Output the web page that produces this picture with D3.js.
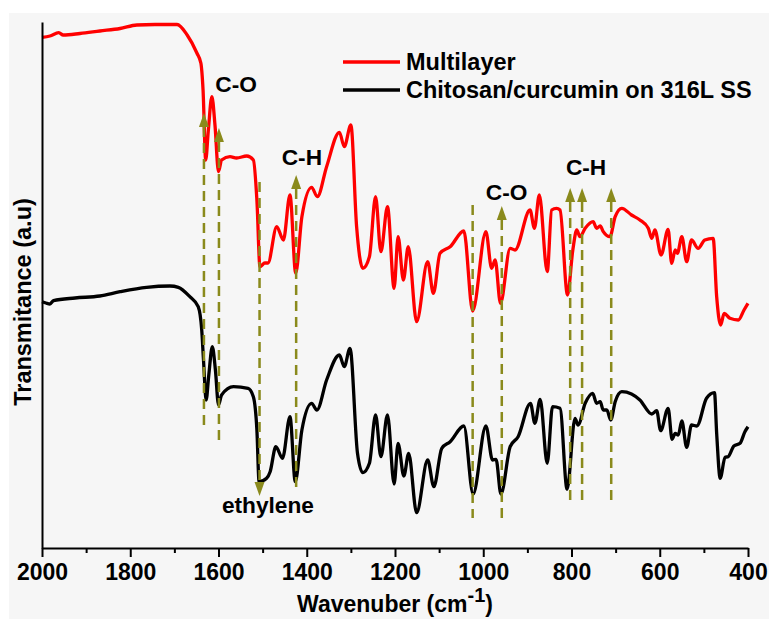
<!DOCTYPE html>
<html>
<head>
<meta charset="utf-8">
<script src="https://cdn.jsdelivr.net/npm/d3@7"></script>
<style>
  html, body { margin: 0; padding: 0; background: #ffffff; }
  svg { display: block; }
  text { font-family: "Liberation Sans", Arial, sans-serif; font-weight: bold; fill: #000; }
</style>
</head>
<body>
<script>
// ---------------- DATA ----------------
// Multilayer spectrum: [wavenumber (cm-1), transmittance (a.u.)]
const multilayerWavenumber = [2000,1982,1962,1952,1914,1869,1823,1785,1744,1694,1671,1649,1640,1635,1629,1623,1615,1608,1600,1593,1574,1559,1536,1521,1513,1506,1495,1488,1468,1453,1438,1425,1411,1389,1376,1355,1326,1315,1300,1287,1273,1258,1244,1232,1217,1202,1193,1181,1170,1151,1126,1113,1098,1075,1044,1024,994,981,973,961,939,928,894,884,873,855,845,834,826,809,797,788,781,769,751,743,735,728,713,701,686,664,645,626,618,611,597,581,573,565,560,550,539,528,513,498,479,471,462,454,441,422,409,400];
const multilayerValue = [510.7,512,515.3,513,514.5,517,519.5,523,523.5,523.5,513,495,485,458,388,418,451.3,423,376.3,388,391.3,390,392,388,348,281.3,285,285,321.3,308,353,274.7,331.3,360.7,351.3,381.3,415.7,401.3,423,321.3,279.7,291.3,351.3,296.3,341.3,259.7,311.3,268,301.3,226.3,286.3,254.7,294.7,301.3,317,237,316.3,279.7,288,244.7,299.7,298,338,319.7,353,276.3,338,339.7,338,253,298,318,311.3,319.7,326.3,319.7,322,316.3,311.3,331.3,339.7,333,328,319.7,309.7,318,293,318.7,284.7,298,294.7,311.3,286.3,308,299.7,308,309.7,251.3,223,234.7,229.7,228,238,244.7];

// Chitosan/curcumin on 316L SS spectrum
const chitosanWavenumber = [2000,1991,1982,1974,1925,1869,1823,1763,1710,1691,1665,1646,1638,1634,1628,1622,1614,1607,1600,1593,1566,1533,1521,1513,1508,1491,1483,1470,1455,1438,1426,1411,1389,1377,1355,1326,1315,1302,1285,1273,1258,1244,1232,1217,1202,1193,1180,1169,1151,1126,1112,1094,1075,1044,1023,994,979,971,960,939,921,893,883,871,855,843,826,810,792,785,769,752,743,735,728,720,711,701,686,664,645,618,607,598,581,572,565,558,550,539,528,516,494,476,471,463,452,445,432,418,407,400];
const chitosanValue = [246.3,245,244,247.3,250,252,256.3,260.7,262,260.7,251.3,241.3,218,188,148,173,201.3,178,143,153,161.3,159.7,151.3,118,66.3,69.7,76.3,101.3,89.7,131.3,66.3,118,144.7,138,168,193,181.3,199.7,94.7,75.3,84.7,133,91.3,133,64,104.7,72,94.7,35.3,88,61.3,99.7,106.3,122,54,122,88,88.7,54,101.3,111.3,144.7,124.7,148.7,84.7,141.3,139.7,58.7,129.7,123,144.7,154.7,144.7,146.3,138,138,128,146.3,156.3,154,148,134,137.3,117.3,139.7,108.7,114.7,113,127,100.7,123,122,149.7,155.3,114.7,69.7,90.7,91.3,102,104.7,116.3,121.3];

// Band markers (dashed guide lines)
const markerWavenumber = [1633, 1599, 1507, 1424, 1024, 958, 803, 776, 710];
const markerTop        = [421, 406, 366, 359, 343, 328, 346, 346, 346];
const markerBottom     = [120, 105, 66, 58, 30, 28, 45, 47, 46];
const markerArrow      = ["up", "up", "down", "up", "none", "up", "up", "up", "up"];

// Band labels
const bandLabels      = ["C-O", "C-H", "C-O", "C-H", "ethylene"];
const bandLabelWn     = [1560, 1411, 947, 767, 1488];
const bandLabelValue  = [456, 383, 348, 373, 35];

// Axis ticks
const majorTicks = [2000, 1800, 1600, 1400, 1200, 1000, 800, 600, 400];
const minorTicks = [1900, 1700, 1500, 1300, 1100, 900, 700, 500];

const seriesNames  = ["Multilayer", "Chitosan/curcumin on 316L SS"];
const seriesColors = ["#ff0000", "#000000"];

// ---------------- CHART ----------------
const W = 769, H = 619;
const plot = { left: 42, right: 748, top: 22, bottom: 548 };
const olive = "#8a8a1c";

const svg = d3.select("body").append("svg").attr("width", W).attr("height", H);

svg.append("rect").attr("x", 9).attr("y", 13).attr("width", W - 9).attr("height", H - 13).attr("fill", "#f6f6f6");

const x = d3.scaleLinear().domain([2000, 400]).range([plot.left, plot.right]);
const y = d3.scaleLinear().domain([0, 526]).range([plot.bottom, plot.top]);

const line = d3.line().x(d => x(d[0])).y(d => y(d[1])).curve(d3.curveMonotoneX);

const series = [
  d3.zip(multilayerWavenumber, multilayerValue),
  d3.zip(chitosanWavenumber, chitosanValue)
];

series.forEach((s, i) => {
  svg.append("path").datum(s)
    .attr("d", line)
    .attr("fill", "none")
    .attr("stroke", seriesColors[i])
    .attr("stroke-width", 3.3)
    .attr("stroke-linejoin", "round");
});

// dashed markers
const gM = svg.append("g");
markerWavenumber.forEach((wn, i) => {
  const xx = x(wn);
  gM.append("line")
    .attr("x1", xx).attr("x2", xx)
    .attr("y1", y(markerTop[i])).attr("y2", y(markerBottom[i]))
    .attr("stroke", olive).attr("stroke-width", 2.5)
    .attr("stroke-dasharray", "10,6");
  if (markerArrow[i] === "up") {
    const yb = y(markerTop[i]);
    gM.append("path")
      .attr("d", `M${xx - 5},${yb} L${xx + 5},${yb} L${xx},${yb - 14} Z`)
      .attr("fill", olive);
  } else if (markerArrow[i] === "down") {
    const yb = y(markerBottom[i]);
    gM.append("path")
      .attr("d", `M${xx - 5},${yb} L${xx + 5},${yb} L${xx},${yb + 14} Z`)
      .attr("fill", olive);
  }
});

// band labels
bandLabels.forEach((t, i) => {
  svg.append("text")
    .attr("x", x(bandLabelWn[i])).attr("y", y(bandLabelValue[i]))
    .attr("text-anchor", "middle")
    .attr("font-size", 22.7)
    .text(t);
});

// axes
const xAxis = d3.axisBottom(x).tickValues(majorTicks).tickSize(9).tickSizeOuter(0).tickPadding(7)
  .tickFormat(d3.format("d"));
const gx = svg.append("g").attr("transform", `translate(0,${plot.bottom})`).call(xAxis);
gx.selectAll("text").attr("font-size", 23).attr("font-family", "Liberation Sans, Arial, sans-serif").attr("font-weight", "bold");
gx.selectAll("line").attr("stroke", "#000").attr("stroke-width", 2);
gx.select(".domain").attr("stroke", "#000").attr("stroke-width", 2);

const xMinor = d3.axisBottom(x).tickValues(minorTicks).tickSize(5).tickSizeOuter(0).tickFormat("");
const gxm = svg.append("g").attr("transform", `translate(0,${plot.bottom})`).call(xMinor);
gxm.selectAll("line").attr("stroke", "#000").attr("stroke-width", 2);
gxm.select(".domain").remove();

const yAxis = d3.axisLeft(y).tickValues([]).tickSizeOuter(0);
const gy = svg.append("g").attr("transform", `translate(${plot.left},0)`).call(yAxis);
gy.select(".domain").attr("stroke", "#000").attr("stroke-width", 2);

// axis titles
const xt = svg.append("text")
  .attr("x", (plot.left + plot.right) / 2).attr("y", 612)
  .attr("text-anchor", "middle").attr("font-size", 23);
xt.append("tspan").text("Wavenuber (cm");
xt.append("tspan").attr("font-size", 20).attr("dy", -10).text("-1");
xt.append("tspan").attr("dy", 10).text(")");

svg.append("text")
  .attr("transform", `translate(31,302) rotate(-90)`)
  .attr("text-anchor", "middle").attr("font-size", 23.5)
  .text("Transmitance (a.u)");

// legend
seriesNames.forEach((n, i) => {
  const ly = 62 + i * 28;
  svg.append("line").attr("x1", 343).attr("x2", 400).attr("y1", ly).attr("y2", ly)
    .attr("stroke", seriesColors[i]).attr("stroke-width", 3.3);
  svg.append("text").attr("x", 406).attr("y", ly + 8).attr("font-size", 23.5).text(n);
});
</script>
</body>
</html>
